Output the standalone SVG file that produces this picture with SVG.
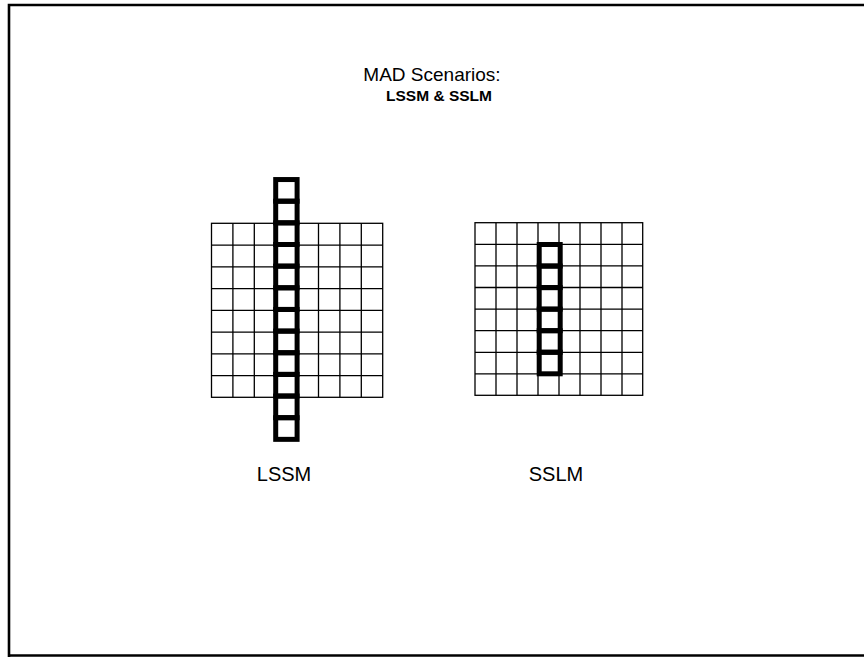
<svg xmlns="http://www.w3.org/2000/svg" width="864" height="657" viewBox="0 0 864 657">
<defs>
<style>
.grid{fill:none;stroke:#000;stroke-width:1.3}
.thick{fill:none;stroke:#000;stroke-width:5}
.frame{fill:none;stroke:#000;stroke-width:2.6}
text{font-family:"Liberation Sans",Arial,sans-serif;fill:#000}
</style>
</defs>
<rect width="864" height="657" fill="#fff"/>
<g id="frame">
<polyline class="frame" points="864,5 9,5 9,657"/>
<line class="frame" x1="9" y1="655.5" x2="864" y2="655.5"/>
</g>
<g id="title">
<text x="432" y="81" font-size="19" text-anchor="middle">MAD Scenarios:</text>
<text x="439" y="101" font-size="15.5" font-weight="bold" text-anchor="middle">LSSM &amp; SSLM</text>
</g>
<g id="lssm">
<g class="grid">
<rect x="211.5" y="223.3" width="171.2" height="174"/>
<path d="M232.9 223.3V397.3M254.3 223.3V397.3M275.7 223.3V397.3M297.1 223.3V397.3M318.5 223.3V397.3M339.9 223.3V397.3M361.3 223.3V397.3M211.5 245.05H382.7M211.5 266.8H382.7M211.5 288.55H382.7M211.5 310.3H382.7M211.5 332.05H382.7M211.5 353.8H382.7M211.5 375.55H382.7"/>
</g>
<g class="thick">
<rect x="275.7" y="179.55" width="21.4" height="21.65"/>
<rect x="275.7" y="201.2" width="21.4" height="21.65"/>
<rect x="275.7" y="222.85" width="21.4" height="21.65"/>
<rect x="275.7" y="244.5" width="21.4" height="21.65"/>
<rect x="275.7" y="266.15" width="21.4" height="21.65"/>
<rect x="275.7" y="287.8" width="21.4" height="21.65"/>
<rect x="275.7" y="309.45" width="21.4" height="21.65"/>
<rect x="275.7" y="331.1" width="21.4" height="21.65"/>
<rect x="275.7" y="352.75" width="21.4" height="21.65"/>
<rect x="275.7" y="374.4" width="21.4" height="21.65"/>
<rect x="275.7" y="396.05" width="21.4" height="21.65"/>
<rect x="275.7" y="417.7" width="21.4" height="21.65"/>
</g>
<text x="284" y="481" font-size="20" text-anchor="middle">LSSM</text>
</g>
<g id="sslm">
<g class="grid">
<rect x="475" y="222.7" width="167.7" height="172.6"/>
<path d="M496 222.7V395.3M517 222.7V395.3M538 222.7V395.3M559 222.7V395.3M580 222.7V395.3M601 222.7V395.3M622 222.7V395.3M475 244.3H642.7M475 265.9H642.7M475 287.5H642.7M475 309.1H642.7M475 330.7H642.7M475 352.3H642.7M475 373.9H642.7"/>
</g>
<g class="thick">
<rect x="539.2" y="244.5" width="21" height="21.55"/>
<rect x="539.2" y="266.05" width="21" height="21.55"/>
<rect x="539.2" y="287.6" width="21" height="21.55"/>
<rect x="539.2" y="309.15" width="21" height="21.55"/>
<rect x="539.2" y="330.7" width="21" height="21.55"/>
<rect x="539.2" y="352.25" width="21" height="21.55"/>
</g>
<text x="556" y="481" font-size="20" text-anchor="middle">SSLM</text>
</g>
</svg>
